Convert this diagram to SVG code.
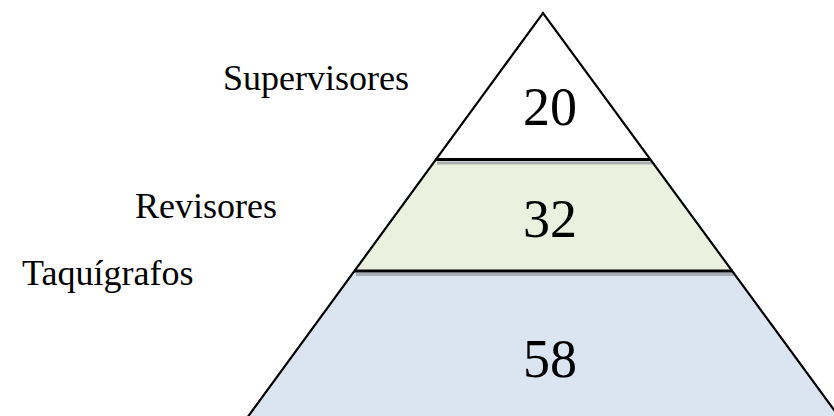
<svg xmlns="http://www.w3.org/2000/svg" width="834" height="416" viewBox="0 0 834 416">
<style>
.lbl{font-family:"Liberation Serif","Times New Roman",serif;font-size:36px;fill:#000}
.num{font-family:"Liberation Serif","Times New Roman",serif;font-size:54px;fill:#000;text-anchor:middle}
.div{stroke:#000;stroke-width:2.8;fill:none}
.shd{stroke:#9ea3aa;stroke-width:3;fill:none;opacity:0.85}
.edge{stroke:#000;stroke-width:2.2;fill:none;stroke-linejoin:miter}
</style>
<rect width="834" height="416" fill="#fff"/>
<g id="level-supervisores">
<polygon points="543,13 651,159.5 435,159.5" fill="#ffffff"/>
<text class="num" x="550" y="125">20</text>
</g>
<g id="level-revisores">
<polygon points="435,159.5 651,159.5 733,271 354,271" fill="#ebf1de"/>
<text class="num" x="550" y="237">32</text>
</g>
<g id="level-taquigrafos">
<polygon points="354,271 733,271 840,418 247,418" fill="#dbe5f1"/>
<text class="num" x="550" y="377">58</text>
</g>
<g id="connectors">
<line class="shd" x1="437" y1="163" x2="652" y2="163"/>
<line class="shd" x1="356" y1="274.5" x2="734" y2="274.5"/>
<line class="div" x1="435" y1="159.5" x2="651" y2="159.5"/>
<line class="div" x1="354" y1="271" x2="733" y2="271"/>
<polyline class="edge" points="247,418 543,13 840,418"/>
</g>
<g id="labels">
<text class="lbl" x="223" y="90">Supervisores</text>
<text class="lbl" x="135" y="218">Revisores</text>
<text class="lbl" x="22" y="285">Taquígrafos</text>
</g>
</svg>
